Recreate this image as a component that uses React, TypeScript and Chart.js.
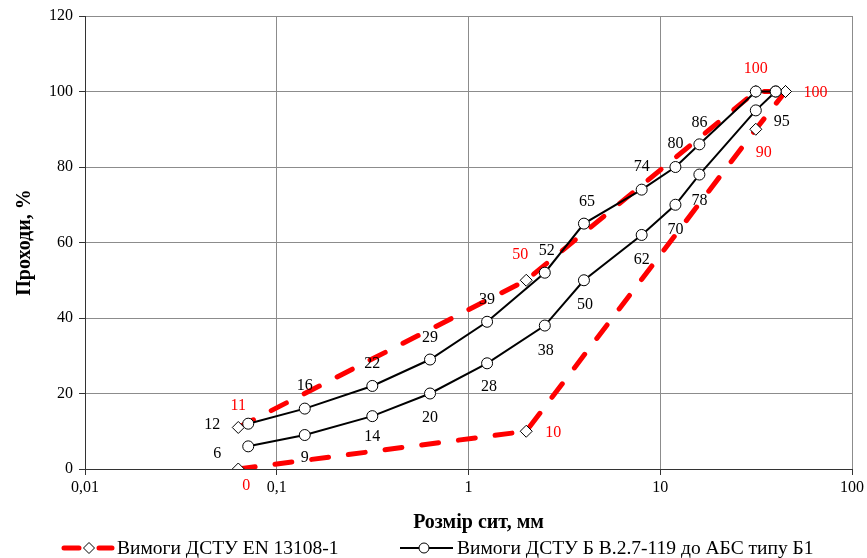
import React, { useEffect, useRef } from 'react';
import { Chart, registerables } from 'chart.js';

Chart.register(...registerables);

// ---- data ----
const sieveRed = [0.063, 2, 31.5, 45];
const redUpper = [11, 50, 100, 100];
const redLower = [0, 10, 90, 100];
const redUpperLabels = ['11', '50', '100', ''];
const redLowerLabels = ['0', '10', '90', '100'];

const sieveBlack = [0.071, 0.14, 0.315, 0.63, 1.25, 2.5, 4, 8, 12, 16, 31.5, 40];
const blackUpper = [12, 16, 22, 29, 39, 52, 65, 74, 80, 86, 100, 100];
const blackLower = [6, 9, 14, 20, 28, 38, 50, 62, 70, 78, 95, 100];
const blackUpperLabels = ['12', '16', '22', '29', '39', '52', '65', '74', '80', '86', '', ''];
const blackLowerLabels = ['6', '9', '14', '20', '28', '38', '50', '62', '70', '78', '95', ''];

const xTicks = [0.01, 0.1, 1, 10, 100];
const yTicks = [0, 20, 40, 60, 80, 100, 120];

const seriesNames = ['Вимоги ДСТУ EN 13108-1', 'Вимоги ДСТУ Б В.2.7-119 до АБС типу Б1'];
const xTitle = 'Розмір сит, мм';
const yTitle = 'Проходи, %';

// ---- label placement (style: pixel offsets of label centre from the point) ----
const redUpperOff = [[0, -22], [-6, -25], [0, -23], [0, 0]];
const redLowerOff = [[8, 17], [27, 2], [8, 24], [30, 1]];
const blackUpperOff = [[-36, 1], [0, -23], [0, -22], [0, -22], [0, -22], [2, -22], [3, -22], [0, -23], [0, -23], [0, -22], [0, 0], [0, 0]];
const blackLowerOff = [[-31, 7], [0, 23], [0, 21], [0, 24], [2, 23], [1, 25], [1, 25], [0, 25], [0, 25], [0, 26], [26, 11], [0, 0]];

const SERIF = '"Liberation Serif", "Times New Roman", serif';
const RED = '#ff0000';

const pts = (xs: number[], ys: number[]) => xs.map((x, i) => ({ x, y: ys[i] }));

const labelPlugin = {
  id: 'pointLabels',
  afterDatasetsDraw(chart: any) {
    const ctx = chart.ctx;
    ctx.save();
    ctx.font = '16px ' + SERIF;
    ctx.textAlign = 'center';
    ctx.textBaseline = 'middle';
    chart.data.datasets.forEach((ds: any, di: number) => {
      const meta = chart.getDatasetMeta(di);
      if (!ds.pointLabels) return;
      ctx.fillStyle = ds.labelColor;
      meta.data.forEach((el: any, i: number) => {
        const t = ds.pointLabels[i];
        if (!t) return;
        const o = ds.labelOffsets[i];
        ctx.fillText(t, el.x + o[0], el.y + o[1]);
      });
    });
    ctx.restore();
  },
};

const legendPlugin = {
  id: 'customLegend',
  afterDraw(chart: any) {
    const ctx = chart.ctx;
    const y = 548;
    ctx.save();
    // x axis title
    ctx.fillStyle = '#000';
    ctx.font = 'bold 20px ' + SERIF;
    ctx.textAlign = 'center';
    ctx.textBaseline = 'middle';
    ctx.fillText(xTitle, (chart.chartArea.left + chart.chartArea.right) / 2 + 10, 523);
    // red item
    ctx.strokeStyle = RED;
    ctx.lineWidth = 5;
    ctx.lineCap = 'round';
    ctx.beginPath();
    ctx.moveTo(64, y); ctx.lineTo(79, y);
    ctx.moveTo(99, y); ctx.lineTo(112, y);
    ctx.stroke();
    ctx.lineCap = 'butt';
    ctx.fillStyle = '#fff';
    ctx.strokeStyle = '#000';
    ctx.lineWidth = 1;
    ctx.beginPath();
    ctx.moveTo(89, y - 5.5); ctx.lineTo(94.5, y); ctx.lineTo(89, y + 5.5); ctx.lineTo(83.5, y); ctx.closePath();
    ctx.fill(); ctx.stroke();
    // black item
    ctx.lineWidth = 2;
    ctx.beginPath();
    ctx.moveTo(400, y); ctx.lineTo(453, y);
    ctx.stroke();
    ctx.lineWidth = 1;
    ctx.beginPath();
    ctx.arc(424, y, 5, 0, Math.PI * 2);
    ctx.fill(); ctx.stroke();
    ctx.fillStyle = '#000';
    ctx.font = '19.5px ' + SERIF;
    ctx.textAlign = 'left';
    ctx.textBaseline = 'middle';
    ctx.fillText(seriesNames[0], 117, y + 1);
    ctx.fillText(seriesNames[1], 457, y + 1);
    ctx.restore();
  },
};

export default function App() {
  const ref = useRef<HTMLCanvasElement>(null);
  useEffect(() => {
    document.body.style.margin = '0';
    const canvas = ref.current!;
    const redCommon = {
      borderColor: RED,
      borderWidth: 5,
      borderDash: [17, 20],
      borderCapStyle: 'round',
      pointStyle: 'rectRot',
      pointRadius: 6,
      pointBackgroundColor: '#fff',
      pointBorderColor: '#000',
      pointBorderWidth: 1,
      labelColor: RED,
      tension: 0,
      fill: false,
    };
    const blackCommon = {
      borderColor: '#000',
      borderWidth: 2,
      pointStyle: 'circle',
      pointRadius: 5.5,
      pointBackgroundColor: '#fff',
      pointBorderColor: '#000',
      pointBorderWidth: 1,
      labelColor: '#000',
      tension: 0,
      fill: false,
    };
    const chart = new Chart(canvas, {
      type: 'line',
      data: {
        datasets: [
          { ...blackCommon, label: seriesNames[1], data: pts(sieveBlack, blackUpper), pointLabels: blackUpperLabels, labelOffsets: blackUpperOff } as any,
          { ...blackCommon, label: seriesNames[1] + ' ', data: pts(sieveBlack, blackLower), pointLabels: blackLowerLabels, labelOffsets: blackLowerOff } as any,
          { ...redCommon, label: seriesNames[0], data: pts(sieveRed, redUpper), pointLabels: redUpperLabels, labelOffsets: redUpperOff } as any,
          { ...redCommon, label: seriesNames[0] + ' ', data: pts(sieveRed, redLower), pointLabels: redLowerLabels, labelOffsets: redLowerOff } as any,
        ],
      },
      options: {
        responsive: false,
        animation: false,
        layout: { padding: { left: 0, right: 14, top: 16, bottom: 0 } },
        plugins: { legend: { display: false }, tooltip: { enabled: false } },
        scales: {
          x: {
            type: 'logarithmic',
            min: 0.01,
            max: 100,
            afterBuildTicks: (s: any) => { s.ticks = xTicks.map((v) => ({ value: v })); },
            afterFit: (s: any) => { s.height = 89; },
            ticks: {
              color: '#000',
              font: { family: SERIF, size: 16 },
              padding: 3,
              maxRotation: 0,
              autoSkip: false,
              callback: (v: any) => String(v).replace('.', ','),
            },
            grid: { color: '#8c8c8c', lineWidth: 1, tickColor: '#333', tickLength: 6 },
            border: { color: '#333', width: 1 },
            title: { display: false },
          },
          y: {
            min: 0,
            max: 120,
            afterBuildTicks: (s: any) => { s.ticks = yTicks.map((v) => ({ value: v })); },
            afterFit: (s: any) => { s.width = 85; },
            ticks: {
              color: '#000',
              font: { family: SERIF, size: 16 },
              padding: 6,
            },
            grid: { color: '#8c8c8c', lineWidth: 1, tickColor: '#333', tickLength: 6 },
            border: { color: '#333', width: 1 },
            title: {
              display: true,
              text: yTitle,
              color: '#000',
              font: { family: SERIF, size: 20, weight: 'bold' },
              padding: { top: 13, bottom: 0 },
            },
          },
        },
      } as any,
      plugins: [labelPlugin, legendPlugin],
    });
    return () => chart.destroy();
  }, []);
  return (
    <div style={{ position: 'fixed', left: 0, top: 0, width: 867, height: 558 }}>
      <canvas ref={ref} width={867} height={558} />
    </div>
  );
}
